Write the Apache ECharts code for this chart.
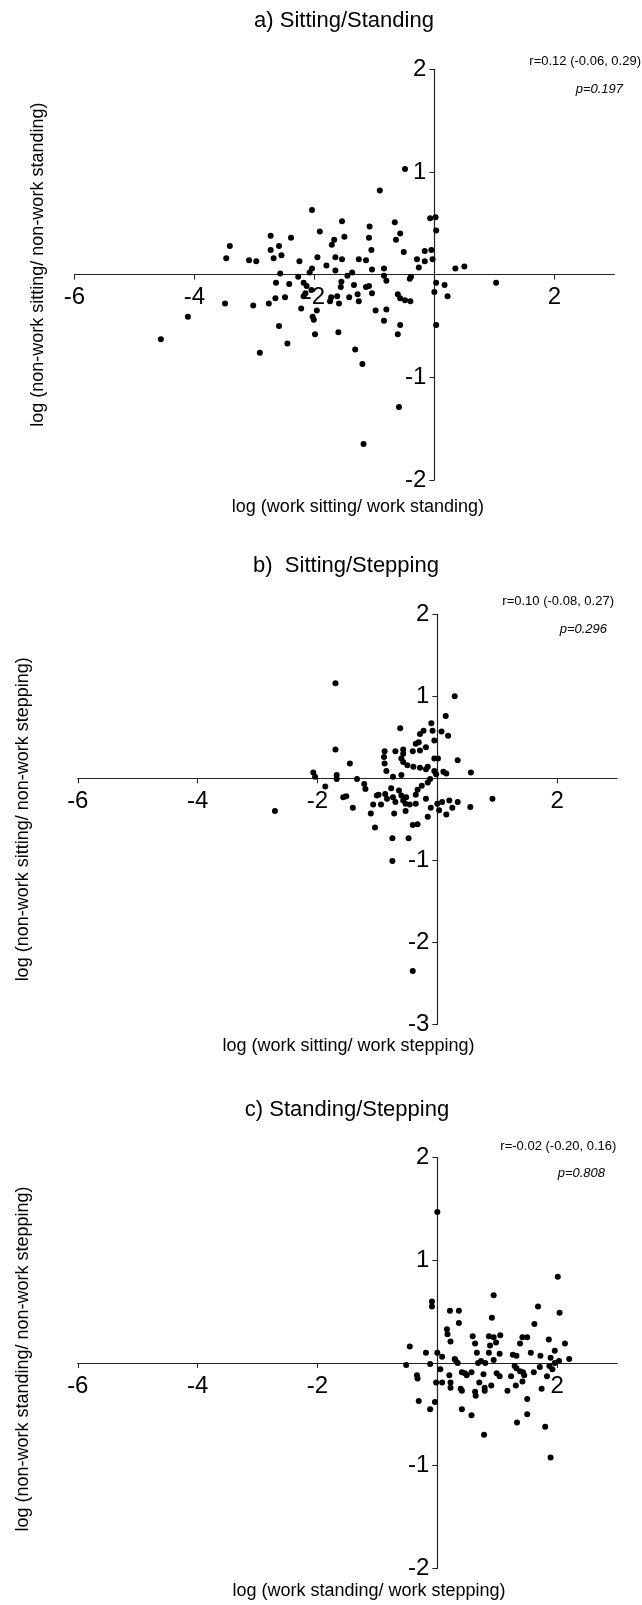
<!DOCTYPE html>
<html><head><meta charset="utf-8">
<script src="https://cdn.jsdelivr.net/npm/echarts@6/dist/echarts.min.js"></script>
<style>html,body{margin:0;padding:0;background:#fff}#c{width:642px;height:1605px}</style>
</head><body><div id="c"></div>
<script>
// ---- Panel a: Sitting/Standing ----
var aX = [-0.49,-0.91,-2.04,-1.54,-0.66,-0.07,0.02,0.03,-1.08,-2.73,-2.39,-1.91,-3.41,-2.59,-2.73,-3.47,-3.09,-2.97,-2.68,-2.55,-2.25,-1.95,-1.80,-1.65,-1.54,-1.65,-2.04,-2.08,-1.71,-1.67,-1.50,-1.09,-1.05,-1.26,-1.14,-1.04,-0.84,-0.64,-0.57,-0.51,-0.29,-0.16,-0.05,-0.03,-0.16,-0.26,0.35,0.50,-1.37,-1.45,-2.57,-2.27,-0.41,-0.39,-0.84,-0.80,-2.64,-2.42,-2.18,-2.13,-1.55,-1.56,-1.34,-1.14,-1.09,0.03,0.17,1.03,0.00,0.22,-1.04,-1.28,-1.26,-1.42,-1.62,-1.72,-1.74,-1.59,-2.18,-2.05,-2.15,-3.49,-3.02,-2.76,-2.65,-2.49,-2.22,-1.96,-2.03,-2.01,-1.99,-2.59,-2.45,-2.91,-4.11,-4.56,-1.60,-1.32,-1.20,-1.18,-0.59,-0.98,-0.80,-0.84,-0.57,-0.61,-0.61,-0.57,-0.49,-0.40,0.03];
var aY = [1.03,0.82,0.63,0.52,0.51,0.55,0.56,0.43,0.47,0.38,0.36,0.42,0.28,0.28,0.24,0.16,0.14,0.13,0.16,0.19,0.13,0.17,0.09,0.17,0.15,0.04,0.06,0.02,0.29,0.34,0.37,0.36,0.24,0.15,0.14,0.05,0.06,0.34,0.40,0.22,0.15,0.23,0.24,0.15,0.13,0.07,0.06,0.08,0.02,-0.01,0.01,-0.02,-0.04,-0.02,-0.01,-0.06,-0.08,-0.09,-0.08,-0.11,-0.07,-0.12,-0.10,-0.12,-0.11,-0.08,-0.10,-0.08,-0.17,-0.21,-0.18,-0.19,-0.26,-0.22,-0.21,-0.22,-0.26,-0.28,-0.21,-0.15,-0.18,-0.28,-0.30,-0.28,-0.23,-0.22,-0.33,-0.35,-0.41,-0.44,-0.58,-0.50,-0.67,-0.76,-0.41,-0.63,-0.56,-0.73,-0.87,-1.65,-1.29,-0.35,-0.34,-0.45,-0.49,-0.58,-0.19,-0.23,-0.25,-0.26,-0.49];
// ---- Panel b: Sitting/Stepping ----
var bX = [-1.70,0.29,0.14,-0.10,-0.62,-0.23,-0.08,0.07,0.18,-0.29,-0.31,-0.36,-0.05,-0.19,-0.29,-0.41,-0.57,-0.70,-0.88,-0.57,-1.70,-0.89,-0.60,-0.05,0.01,0.34,-1.46,-0.88,-0.57,-0.50,-0.40,-0.29,-0.16,-0.19,-0.85,-0.74,-0.60,-0.05,-0.02,0.10,0.15,0.56,-2.07,-2.04,-1.68,-1.68,-1.34,-1.87,-1.22,-1.20,-1.57,-1.52,-1.41,-2.71,-1.11,-1.07,-1.01,-0.77,-0.98,-0.87,-0.84,-0.74,-0.70,-0.64,-0.60,-0.57,-0.53,-0.52,-0.46,-0.36,-0.33,-0.26,-0.16,-0.12,-0.19,-0.36,0.00,0.08,0.20,0.25,0.34,0.55,0.92,0.03,0.15,-0.11,-0.16,-0.72,-0.53,-0.94,-0.33,-0.41,-1.04,-0.75,-0.48,-0.75,-0.41];
var bY = [1.16,1.00,0.76,0.67,0.61,0.58,0.58,0.57,0.52,0.54,0.44,0.42,0.46,0.38,0.34,0.33,0.35,0.33,0.33,0.30,0.35,0.26,0.24,0.24,0.24,0.22,0.18,0.18,0.20,0.16,0.14,0.13,0.14,0.11,0.09,0.02,0.04,0.09,0.05,0.08,0.06,0.07,0.07,0.02,0.04,-0.01,-0.01,-0.10,-0.07,-0.13,-0.23,-0.22,-0.36,-0.40,-0.43,-0.32,-0.21,-0.12,-0.20,-0.19,-0.25,-0.23,-0.29,-0.15,-0.21,-0.27,-0.31,-0.23,-0.32,-0.20,-0.14,-0.09,-0.05,-0.01,-0.25,-0.31,-0.31,-0.29,-0.27,-0.36,-0.29,-0.35,-0.25,-0.39,-0.44,-0.36,-0.47,-0.43,-0.40,-0.32,-0.56,-0.57,-0.60,-0.73,-0.73,-1.01,-2.35];
// ---- Panel c: Standing/Stepping ----
var cX = [0.00,2.01,0.94,-0.09,-0.09,0.21,0.36,1.68,2.04,0.91,0.36,1.62,0.16,0.17,0.22,0.59,0.63,0.86,0.94,1.05,0.98,0.88,1.42,1.50,1.38,1.86,2.13,1.96,-0.46,-0.19,0.00,0.08,0.29,0.66,0.86,1.04,1.26,1.32,1.56,1.72,1.89,2.20,-0.52,-0.34,-0.33,-0.12,0.05,-0.02,0.08,0.20,0.22,0.22,0.30,0.34,0.41,0.46,0.49,0.57,0.39,0.41,0.63,0.64,0.70,0.77,0.68,0.73,0.80,0.79,0.79,0.90,0.94,0.99,1.04,1.17,1.23,1.29,1.32,1.38,1.43,1.45,1.31,1.42,1.50,1.50,1.33,0.41,0.57,0.78,-0.31,-0.12,-0.04,1.61,1.71,1.74,1.83,1.87,1.92,1.96,2.03,1.80,1.89];
var cY = [1.47,0.84,0.66,0.60,0.55,0.51,0.51,0.55,0.49,0.44,0.39,0.38,0.33,0.28,0.21,0.26,0.19,0.26,0.25,0.27,0.20,0.17,0.25,0.25,0.19,0.23,0.19,0.12,0.16,0.10,0.10,0.06,0.04,0.10,0.10,0.09,0.08,0.07,0.10,0.07,0.05,0.04,-0.02,-0.12,-0.15,-0.01,-0.06,-0.19,-0.19,-0.12,-0.19,-0.24,0.03,0.00,-0.09,-0.10,-0.12,-0.09,-0.25,-0.27,-0.28,-0.32,-0.19,-0.11,0.00,0.02,0.00,-0.24,-0.27,-0.22,0.03,-0.10,-0.13,-0.27,-0.13,-0.03,-0.05,-0.08,-0.09,-0.12,-0.22,-0.18,-0.35,-0.50,-0.58,-0.45,-0.51,-0.70,-0.37,-0.45,-0.38,-0.09,-0.04,-0.25,-0.13,-0.03,-0.06,0.00,0.02,-0.62,-0.92];

var titles = ['a) Sitting/Standing', 'b)  Sitting/Stepping', 'c) Standing/Stepping'];
var xNames = ['log (work sitting/ work standing)', 'log (work sitting/ work stepping)', 'log (work standing/ work stepping)'];
var yNames = ['log (non-work sitting/ non-work standing)', 'log (non-work sitting/ non-work stepping)', 'log (non-work standing/ non-work stepping)'];
var rTexts = ['r=0.12 (-0.06, 0.29)', 'r=0.10 (-0.08, 0.27)', 'r=-0.02 (-0.20, 0.16)'];
var pTexts = ['p=0.197', 'p=0.296', 'p=0.808'];
var xTickLabels = [-6, -4, -2, 2];
var yTickLabelsA = [-2, -1, 1, 2];
var yTickLabelsB = [-3, -2, -1, 1, 2];
var yTickLabelsC = [-2, -1, 1, 2];

function zip(xs, ys) { return xs.map(function (v, i) { return [v, ys[i]]; }); }

var FONT = 'Liberation Sans, Arial, sans-serif';
var AX = '#222';
var XMIN = -6, XMAX = 3;

var layout = [
  { grid: { left: 74.5, top: 69.3, width: 539.8, height: 410.7 }, ymin: -2, ymax: 2, ylab: yTickLabelsA,
    xGap: 223, xPad: [0, 0, 0, 27], yGap: 387, yPad: [0, 0, 0, 20],
    title: [344, 23], r: [641, 61.7], p: [623, 89.3] },
  { grid: { left: 77.8, top: 614.3, width: 539.3, height: 410 }, ymin: -3, ymax: 2, ylab: yTickLabelsB,
    xGap: 259, xPad: [0, 0, 0, 2], yGap: 405, yPad: [0, 0, 0, 0],
    title: [346, 568], r: [614, 601.7], p: [607, 629] },
  { grid: { left: 77.8, top: 1157.7, width: 539.3, height: 410.6 }, ymin: -2, ymax: 2, ylab: yTickLabelsC,
    xGap: 219, xPad: [0, 0, 0, 43], yGap: 405, yPad: [0, 0, 0, 8],
    title: [347, 1112], r: [616.3, 1146], p: [605, 1173] }
];
var seriesData = [zip(aX, aY), zip(bX, bY), zip(cX, cY)];

var option = { animation: false, backgroundColor: '#fff', grid: [], xAxis: [], yAxis: [], series: [], title: [], graphic: [] };

layout.forEach(function (L, i) {
  var g = L.grid;
  g.containLabel = false;
  g.outerBoundsMode = 'none';
  option.grid.push(g);
  // move axes so they cross at (0, 0)
  var xOff = -g.height * (0 - L.ymin) / (L.ymax - L.ymin);
  var yOff = -g.width * (0 - XMIN) / (XMAX - XMIN);
  option.xAxis.push({
    gridIndex: i, type: 'value', min: XMIN, max: XMAX, position: 'bottom', offset: xOff,
    name: xNames[i], nameLocation: 'middle', nameGap: L.xGap,
    nameTextStyle: { fontFamily: FONT, fontSize: 18, color: '#000', padding: L.xPad },
    axisLine: { onZero: false, lineStyle: { color: AX, width: 1.2 } },
    axisTick: { show: true, length: 5, lineStyle: { color: AX }, customValues: [-6, -4, -2, 0, 2] },
    axisLabel: { customValues: xTickLabels, fontFamily: FONT, fontSize: 24, color: '#000', margin: 11 },
    splitLine: { show: false }
  });
  option.yAxis.push({
    gridIndex: i, type: 'value', min: L.ymin, max: L.ymax, position: 'left', offset: yOff,
    name: yNames[i], nameLocation: 'middle', nameGap: L.yGap, nameRotate: 90,
    nameTextStyle: { fontFamily: FONT, fontSize: 18, color: '#000', padding: L.yPad },
    axisLine: { onZero: false, lineStyle: { color: AX, width: 1.2 } },
    axisTick: { show: true, length: 5, lineStyle: { color: AX }, customValues: L.ylab },
    axisLabel: { customValues: L.ylab, fontFamily: FONT, fontSize: 24, color: '#000', margin: 8 },
    splitLine: { show: false }
  });
  option.series.push({
    type: 'scatter', xAxisIndex: i, yAxisIndex: i, data: seriesData[i],
    symbol: 'circle', symbolSize: 6, itemStyle: { color: '#000', opacity: 1 }
  });
  option.title.push({
    text: titles[i], left: L.title[0], top: L.title[1] - 13, textAlign: 'center', padding: 0,
    textStyle: { fontFamily: FONT, fontSize: 22, fontWeight: 'normal', color: '#000' }
  });
  option.graphic.push({
    type: 'text', x: L.r[0], y: L.r[1],
    style: { text: rTexts[i], align: 'right', verticalAlign: 'middle', font: '13px ' + FONT, fill: '#000' }
  });
  option.graphic.push({
    type: 'text', x: L.p[0], y: L.p[1],
    style: { text: pTexts[i], align: 'right', verticalAlign: 'middle', font: 'italic 13px ' + FONT, fill: '#000' }
  });
});

var chart = echarts.init(document.getElementById('c'), null, { renderer: 'canvas', width: 642, height: 1605 });
chart.setOption(option);
</script>
</body></html>
